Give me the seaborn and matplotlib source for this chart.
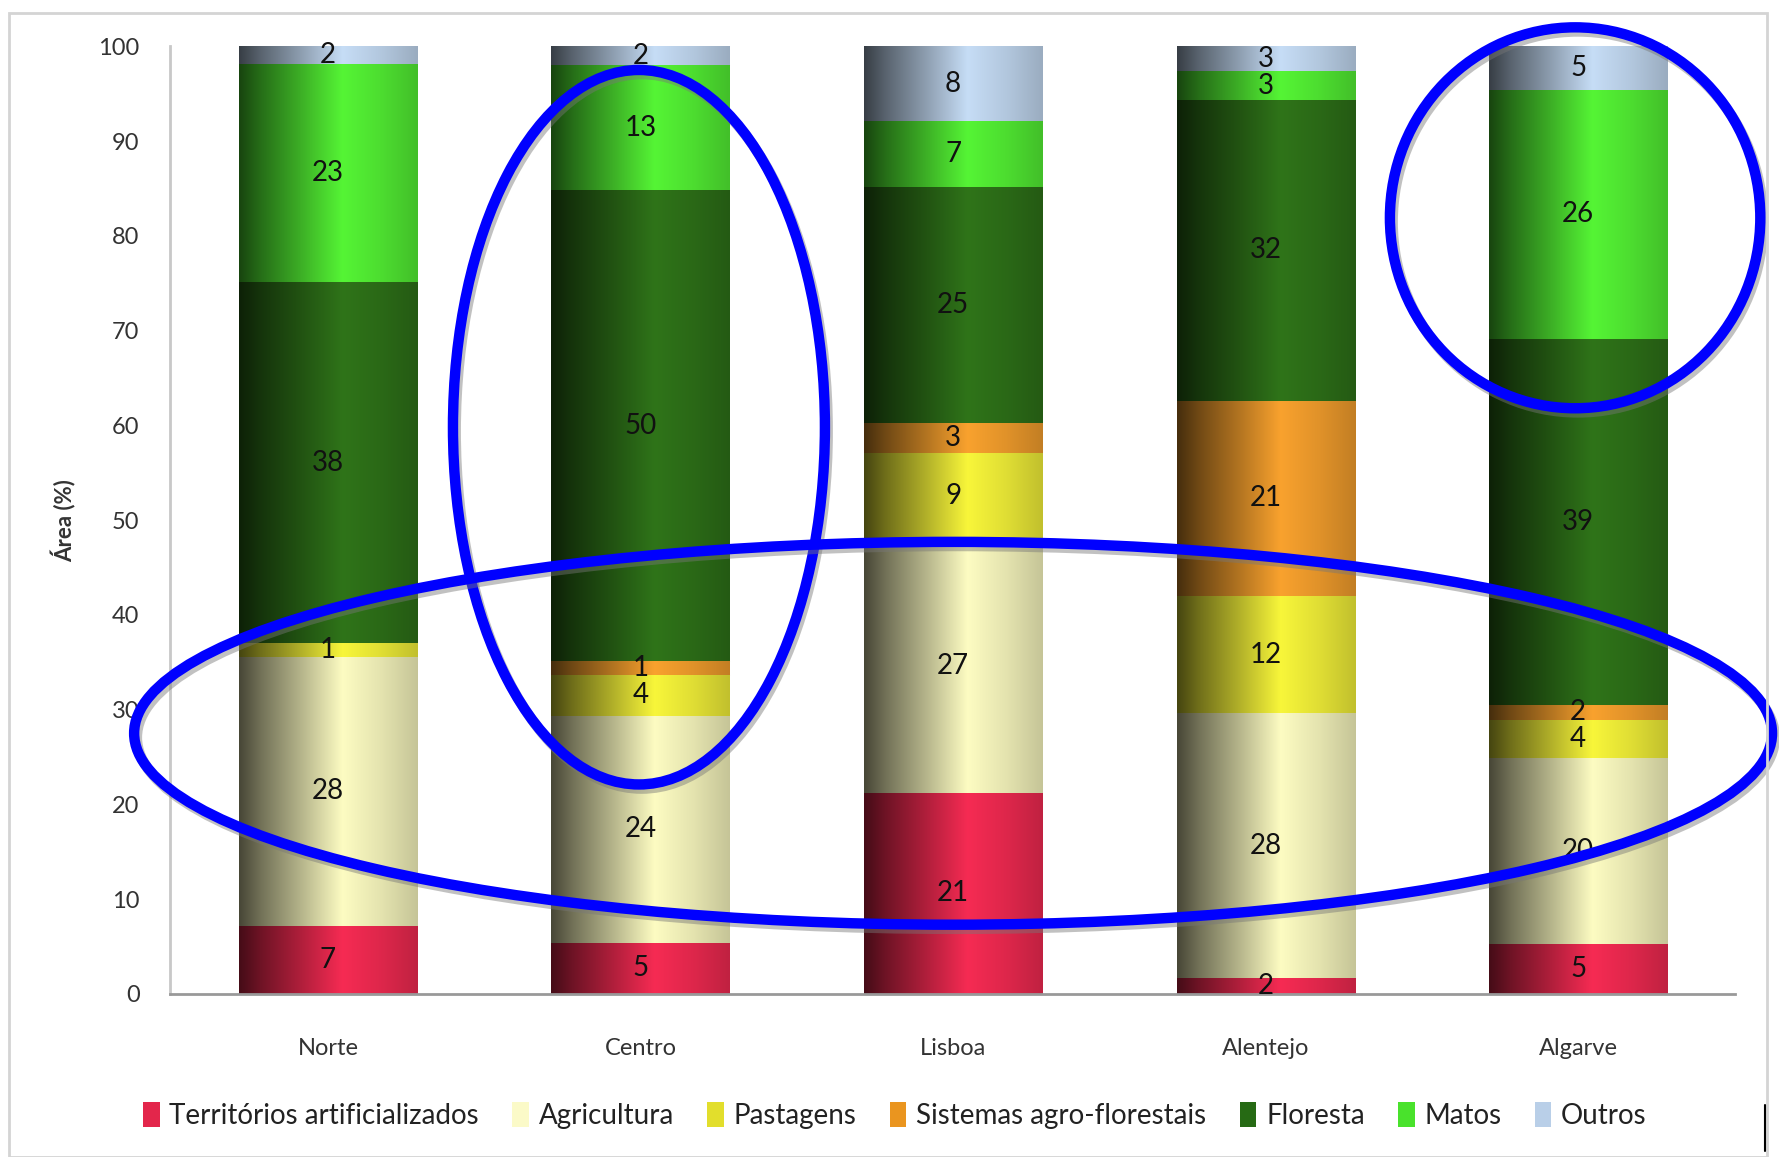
import numpy as np
import pandas as pd
import matplotlib.pyplot as plt
import matplotlib.patheffects as pe
from matplotlib.colors import to_rgb
from matplotlib.patches import Ellipse, Patch, Rectangle
from matplotlib.lines import Line2D
import seaborn as sns

regioes = ['Norte', 'Centro', 'Lisboa', 'Alentejo', 'Algarve']
classes = ['Territórios artificializados', 'Agricultura', 'Pastagens',
           'Sistemas agro-florestais', 'Floresta', 'Matos', 'Outros']

# área (%) por classe, uma entrada por região
territorios = [7.2, 5.4, 21.2, 1.7, 5.3]
agricultura = [28.4, 23.9, 26.8, 27.9, 19.6]
pastagens = [1.4, 4.4, 9.1, 12.4, 4.0]
sistemas = [0.0, 1.4, 3.1, 20.6, 1.6]
floresta = [38.1, 49.7, 24.9, 31.7, 38.6]
matos = [23.0, 13.2, 7.0, 3.1, 26.3]
outros = [1.9, 2.0, 7.9, 2.6, 4.6]
series = [territorios, agricultura, pastagens, sistemas, floresta, matos, outros]

cores = ['#F62B53', '#FDFCC2', '#F8F63A', '#F9A22E', '#2F7419', '#55F535', '#C6DDF6']
cores_legenda = ['#E3264B', '#FBFAC8', '#E2DE2C', '#EA951F', '#266A14', '#49E22C', '#B9CFE8']

sns.set_theme(style='white')
plt.rcParams['font.family'] = ['Lato', 'DejaVu Sans']

fig = plt.figure(figsize=(17.79, 11.57), dpi=100)
ax = fig.add_axes([0.0956, 0.141, 0.8794, 0.819])

# perfil de brilho do degradê horizontal das barras
pos = np.linspace(0, 1, 256)
brilho = np.interp(pos, [0, 0.12, 0.35, 0.58, 0.8, 1.0], [0.28, 0.45, 0.72, 1.0, 0.9, 0.78])

base = np.zeros(len(regioes))
for nome, vals, cor in zip(classes, series, cores):
    df = pd.DataFrame({'regiao': regioes, 'valor': vals})
    sns.barplot(data=df, x='regiao', y='valor', color=cor, bottom=base.copy(),
                width=0.57, errorbar=None, saturation=1, ax=ax, zorder=1)
    cont = ax.containers[-1]
    rgb = np.array(to_rgb(cor))
    grad = np.clip(brilho[:, None] * rgb[None, :], 0, 1)[None, :, :]
    for rect in cont.patches:
        x0, y0 = rect.get_x(), rect.get_y()
        w, h = rect.get_width(), rect.get_height()
        if h > 0:
            ax.imshow(grad, extent=(x0, x0 + w, y0, y0 + h), aspect='auto',
                      interpolation='bilinear', zorder=1.5)
    ax.bar_label(cont, labels=[f'{v:.0f}' if v > 0 else '' for v in vals],
                 label_type='center', fontsize=20, color='#111111', zorder=4)
    base += np.array(vals)

ax.set_xlim(-0.505, 4.5)
ax.set_ylim(0, 100)
ax.set_yticks(range(0, 101, 10))
ax.set_xlabel('')
ax.set_ylabel('Área (%)', fontsize=16, fontweight='bold', color='#333333')
ax.yaxis.set_label_coords(-0.06, 0.5)
ax.tick_params(axis='y', length=0, pad=22, labelsize=17, labelcolor='#333333')
ax.tick_params(axis='x', length=0, pad=32, labelsize=17, labelcolor='#333333')
for s in ['top', 'right']:
    ax.spines[s].set_visible(False)
ax.spines['left'].set_color('#c8c8c8')
ax.spines['left'].set_linewidth(2)
ax.spines['bottom'].set_color('#999999')
ax.spines['bottom'].set_linewidth(2)

# elipses azuis de destaque
sombra = [pe.SimpleLineShadow(offset=(2, -3), shadow_color='#777777', alpha=0.45), pe.Normal()]
elipses = [(0.995, 59.8, 1.19, 75.4), (3.99, 81.9, 1.185, 40.2), (2.0, 27.5, 5.24, 40.4)]
for cx, cy, ew, eh in elipses:
    e = Ellipse((cx, cy), ew, eh, fill=False, edgecolor='#0000FF', linewidth=7.5,
                clip_on=False, zorder=6, path_effects=sombra)
    ax.add_patch(e)

handles = [Patch(facecolor=c, edgecolor='none') for c in cores_legenda]
fig.legend(handles, classes, loc='center', bbox_to_anchor=(0.503, 0.036), ncol=7,
           frameon=False, fontsize=20, handlelength=0.6, handleheight=1.0,
           handletextpad=0.35, columnspacing=1.2, labelcolor='#222222')

# moldura da imagem
fig.patches.append(Rectangle((0.005, 0.0), 0.988, 0.989, transform=fig.transFigure,
                             fill=False, edgecolor='#d4d4d4', linewidth=2))
fig.lines.append(Line2D([0.992, 0.992], [0.005, 0.045], transform=fig.transFigure,
                        color='black', linewidth=1.5))

fig.savefig('out.png', dpi=100)
